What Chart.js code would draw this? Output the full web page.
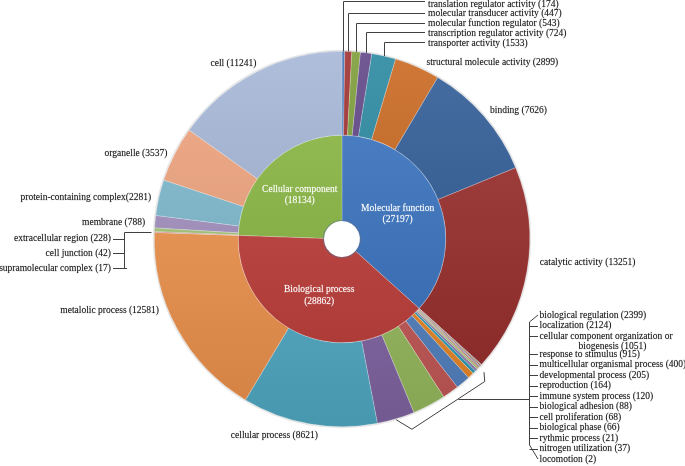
<!DOCTYPE html>
<html>
<head>
<meta charset="utf-8">
<script src="https://cdn.jsdelivr.net/npm/chart.js@4.4.1/dist/chart.umd.min.js"></script>
<style>
  html, body { margin: 0; padding: 0; background: #fff; }
  #wrap { width: 685px; height: 466px; position: relative; }
</style>
</head>
<body>
<div id="wrap"><canvas id="goChart"></canvas></div>
<script>
// inner ring: GO main categories
const innerLabels = ['Molecular function', 'Biological process', 'Cellular component'];
const innerValues = [27197, 28862, 18134];

// outer ring, clockwise from 12 o'clock
const mfLabels = ['translation regulator activity', 'molecular transducer activity', 'molecular function regulator',
    'transcription regulator activity', 'transporter activity', 'structural molecule activity', 'binding', 'catalytic activity'];
const mfValues = [174, 447, 543, 724, 1533, 2899, 7626, 13251];

const bpLabels = ['locomotion', 'nitrogen utilization', 'rythmic process', 'biological phase', 'cell proliferation',
    'biological adhesion', 'immune system process', 'reproduction', 'developmental process',
    'multicellular organismal process', 'response to stimulus', 'cellular component organization or biogenesis',
    'localization', 'biological regulation', 'cellular process', 'metalolic process'];
const bpValues = [2, 37, 21, 66, 68, 88, 120, 164, 205, 400, 915, 1051, 2124, 2399, 8621, 12581];

const ccLabels = ['supramolecular complex', 'cell junction', 'extracellular region', 'membrane',
    'protein-containing complex', 'organelle', 'cell'];
const ccValues = [17, 42, 228, 788, 2281, 3537, 11241];

// colours (Excel-like palette)
const innerColors = ['#3873c2', '#c13d39', '#8ab841'];
const mfColors = ['#3e70b8', '#a02d2d', '#7a9b35', '#5e4285', '#2787a0', '#c8661c', '#2d5a95', '#9a2c2b'];
const bpColors = ['#5f7530', '#4d3b62', '#276a7c', '#b65708', '#729aca', '#cd7371', '#afc97a', '#9983b5',
    '#2fa0c0', '#f08a28', '#5485c5', '#c85a58', '#9cc061', '#8468a8', '#52afcb', '#f4964e'];
const ccColors = ['#4f81bd', '#c0504d', '#a6c77a', '#a593c2', '#7ebbd0', '#f1a47e', '#a3b5d6'];

const outerLabels = [...mfLabels, ...bpLabels, ...ccLabels];
const outerValues = [...mfValues, ...bpValues, ...ccValues];
const outerColors = [...mfColors, ...bpColors, ...ccColors];

const labelFont = '9.5px "Liberation Serif", "Times New Roman", serif';

function shade(hex, amt) {
    const n = parseInt(hex.slice(1), 16);
    let r = (n >> 16) & 255, g = (n >> 8) & 255, b = n & 255;
    const f = c => amt >= 0 ? Math.round(c + (255 - c) * amt) : Math.round(c * (1 + amt));
    return `rgb(${f(r)},${f(g)},${f(b)})`;
}

// vertical gradient over the whole pie, lighter on top
const gradCache = {};
function sliceFill(chart, color) {
    const area = chart.chartArea;
    if (!area) return color;
    const key = color + '|' + area.top + '|' + area.bottom;
    if (!gradCache[key]) {
        const g = chart.ctx.createLinearGradient(0, area.top, 0, area.bottom);
        g.addColorStop(0, shade(color, 0.12));
        g.addColorStop(1, shade(color, -0.14));
        gradCache[key] = g;
    }
    return gradCache[key];
}

function labelText(name, v) {
    if (name === 'protein-containing complex') return name + '(' + v + ')';
    return name + ' (' + v + ')';
}

// slightly heavier text, like the scaled-up original
function text(ctx, s, x, y) {
    ctx.strokeText(s, x, y);
    ctx.fillText(s, x, y);
}

// which outer slices get which kind of label
const topList = [0, 1, 2, 3, 4];
const directLabels = [5, 6, 7, 22, 23, 27, 28, 29, 30];
const rightList = [21, 20, 19, 18, 17, 16, 15, 14, 13, 12, 11, 10, 9, 8];
const leftList = [26, 25, 24];
const nudge = {5: [6, 3], 6: [0, -1], 7: [5, -10], 22: [10, 4], 23: [-11, -22], 27: [-2, 2], 28: [0, 2], 29: [0, 2.5], 30: [4, -2]};

const labelPlugin = {
    id: 'goLabels',
    afterDraw(chart) {
        const ctx = chart.ctx;
        const outer = chart.getDatasetMeta(0).data;
        const inner = chart.getDatasetMeta(1).data;
        const cx = outer[0].x, cy = outer[0].y;
        const R = outer[0].outerRadius;
        const polar = (a, r) => ({x: cx + r * Math.cos(a), y: cy + r * Math.sin(a)});
        const mid = arc => (arc.startAngle + arc.endAngle) / 2;
        const deg = Math.PI / 180;

        ctx.save();
        // soft edge round the outer ring
        ctx.beginPath();
        ctx.arc(cx, cy, R + 0.8, 0, Math.PI * 2);
        ctx.strokeStyle = 'rgba(120,120,120,0.18)';
        ctx.lineWidth = 1.5;
        ctx.stroke();

        // hole edge shadow
        ctx.beginPath();
        ctx.arc(cx, cy, inner[0].innerRadius + 0.5, 0, Math.PI * 2);
        ctx.strokeStyle = 'rgba(90,110,140,0.55)';
        ctx.lineWidth = 1.2;
        ctx.stroke();

        // inner ring labels
        ctx.font = labelFont;
        ctx.fillStyle = '#ffffff';
        ctx.strokeStyle = 'rgba(255,255,255,0.35)';
        ctx.lineWidth = 0.35;
        ctx.textAlign = 'center';
        ctx.textBaseline = 'middle';
        inner.forEach((arc, i) => {
            const p = arc.getCenterPoint();
            text(ctx, innerLabels[i], p.x, p.y - 5.7);
            text(ctx, '(' + innerValues[i] + ')', p.x, p.y + 5.7);
        });

        ctx.fillStyle = '#111111';
        ctx.strokeStyle = 'rgba(0,0,0,0.3)';
        ctx.lineWidth = 0.35;

        // direct labels just outside the ring
        directLabels.forEach(i => {
            const a = mid(outer[i]);
            const p = polar(a, R + 8);
            const right = Math.cos(a) >= 0;
            const [dx, dy] = nudge[i] || [0, 0];
            ctx.textAlign = right ? 'left' : 'right';
            text(ctx, labelText(outerLabels[i], outerValues[i]), p.x + dx, p.y + dy);
        });

        const line = pts => {
            ctx.save();
            ctx.strokeStyle = '#404040';
            ctx.lineWidth = 1;
            ctx.beginPath();
            pts.forEach((p, k) => k ? ctx.lineTo(p[0], p[1]) : ctx.moveTo(p[0], p[1]));
            ctx.stroke();
            ctx.restore();
        };

        // top-right list with elbow leader lines
        ctx.textAlign = 'left';
        topList.forEach((i, k) => {
            const ly = 4 + k * 9.8;
            const p = polar(mid(outer[i]), R);
            const lx = Math.round(p.x) + 0.5;
            const hy = (k === 0 ? 1 : Math.round(ly - 1)) + 0.5;
            line([[lx, p.y], [lx, hy], [425, hy]]);
            text(ctx, labelText(outerLabels[i], outerValues[i]), 428, ly);
        });

        // bottom-right bracket around the small BP slices
        const s = outer[8].startAngle;
        const e = mid(outer[21]);
        const A = polar(s + 1.2 * deg, R + 7);
        const B = polar(s + 3 * deg, R + 14);
        const C = polar(e - 3.5 * deg, R + 15);
        const D = polar(e, R + 1);
        line([[A.x, A.y], [B.x, B.y], [C.x, C.y], [D.x, D.y]]);
        const J = {x: B.x + (C.x - B.x) * 0.36, y: B.y + (C.y - B.y) * 0.36};
        const vx = 529.5;
        line([[J.x, Math.round(J.y) + 0.5], [vx, Math.round(J.y) + 0.5]]);

        const step = 10.5;
        let ly = 315;
        const rows = [];
        rightList.forEach(i => {
            const name = outerLabels[i];
            if (name.indexOf(' or ') > 0) {
                const cut = name.indexOf(' or ') + 3;
                rows.push({y: ly, text: name.slice(0, cut)});
                rows.push({y: ly + step, text: name.slice(cut + 1) + ' (' + outerValues[i] + ')', centre: true, tick: false});
                ly += step * 2 - 3;
            } else {
                rows.push({y: ly, text: labelText(name, outerValues[i])});
                ly += step;
            }
        });
        const top = rows[0].y + 7, bottom = rows[rows.length - 1].y - 14;
        line([[vx, top], [vx, bottom]]);
        rows.forEach((r, k) => {
            if (r.tick !== false) {
                if (k === 0) line([[vx, top], [538, r.y]]);
                else if (k === rows.length - 1) line([[vx, bottom], [538, r.y]]);
                else line([[vx, Math.round(r.y) + 0.5], [538, Math.round(r.y) + 0.5]]);
            }
            if (r.centre) {
                const w0 = ctx.measureText(rows[k - 1].text).width;
                ctx.textAlign = 'center';
                text(ctx, r.text, 540 + w0 / 2 + 6, r.y);
            } else {
                ctx.textAlign = 'left';
                text(ctx, r.text, 539.5, r.y);
            }
        });

        // left list with bracket
        const g0 = outer[leftList[leftList.length - 1]].startAngle;
        const g1 = outer[leftList[0]].endAngle;
        const gp = polar((g0 + g1) / 2, R);
        const bx = 124.5;
        const topY = Math.round(gp.y + 1.5) + 0.5;
        line([[gp.x - 3, topY], [bx, topY], [bx, 269]]);
        ctx.textAlign = 'right';
        leftList.forEach((i, k) => {
            const y = 238.7 + k * 14.7;
            line([[113, Math.round(y) + 0.5], [k === leftList.length - 1 ? 127 : bx, Math.round(y) + 0.5]]);
            text(ctx, labelText(outerLabels[i], outerValues[i]), 111, y);
        });
        ctx.restore();
    }
};

new Chart(document.getElementById('goChart'), {
    type: 'doughnut',
    data: {
        labels: outerLabels,
        datasets: [{
            label: 'GO term',
            data: outerValues,
            backgroundColor: c => sliceFill(c.chart, outerColors[c.dataIndex]),
            weight: 84
        }, {
            label: 'GO category',
            data: innerValues,
            backgroundColor: c => sliceFill(c.chart, innerColors[c.dataIndex]),
            weight: 86
        }]
    },
    options: {
        responsive: true,
        maintainAspectRatio: false,
        animation: false,
        cutout: 18,
        borderWidth: 0.6,
        borderColor: 'rgba(255,255,255,0.35)',
        hoverOffset: 0,
        hoverBorderWidth: 0,
        layout: { padding: { top: 51, bottom: 39, left: 154, right: 155 } },
        plugins: {
            legend: { display: false },
            tooltip: { enabled: false }
        }
    },
    plugins: [labelPlugin]
});
</script>
</body>
</html>
